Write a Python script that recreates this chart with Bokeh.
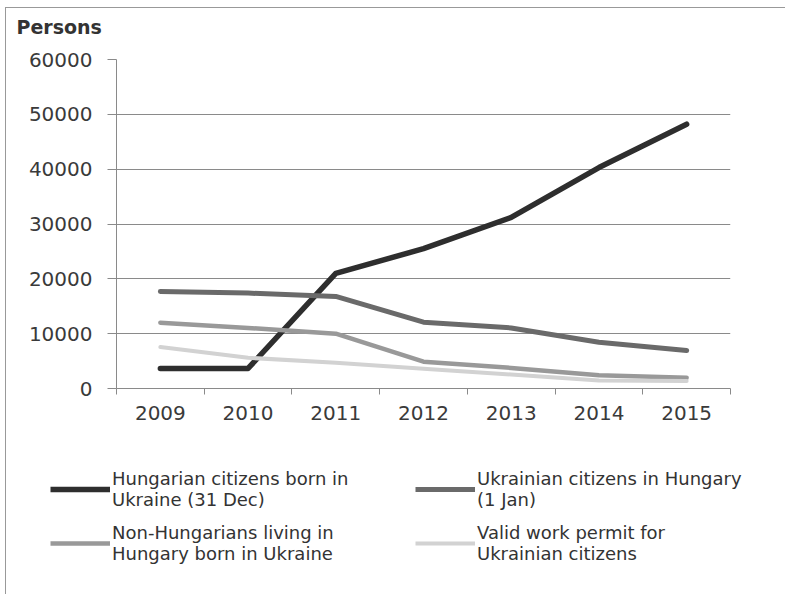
from bokeh.plotting import figure
from bokeh.layouts import column
from bokeh.models import Range1d, FixedTicker, Legend, LegendItem
from bokeh.embed import file_html
from bokeh.resources import INLINE

years = ["2009", "2010", "2011", "2012", "2013", "2014", "2015"]
hungarian_citizens = [3650, 3650, 21000, 25500, 31200, 40300, 48200]
ukrainian_citizens = [17700, 17400, 16800, 12100, 11050, 8450, 6930]
non_hungarians = [12000, 11050, 10000, 4900, 3750, 2400, 1950]
work_permit = [7550, 5600, 4700, 3600, 2550, 1450, 1350]
y_ticks = [0, 10000, 20000, 30000, 40000, 50000, 60000]

labels = ["Hungarian citizens born in\nUkraine (31 Dec)",
          "Ukrainian citizens in Hungary\n(1 Jan)",
          "Non-Hungarians living in\nHungary born in Ukraine",
          "Valid work permit for\nUkrainian citizens"]
colors = ["#2e2e2e", "#6a6a6a", "#999999", "#d2d2d2"]
widths = [5.5, 5, 4.5, 4]
series_list = [hungarian_citizens, ukrainian_citizens, non_hungarians, work_permit]

xs = [i + 0.5 for i in range(len(years))]

W, H1, H2 = 779, 440, 146
FL, FR, FT, FB = 110, 724, 51, 380
p = figure(width=W, height=H1, output_backend="svg", toolbar_location=None,
           x_range=Range1d(0, len(years)), y_range=Range1d(0, 60000),
           min_border_left=FL, min_border_right=W - FR,
           min_border_top=FT, min_border_bottom=H1 - FB,
           frame_width=FR - FL, frame_height=FB - FT,
           title="Persons\n")
p.frame_align = False
p.title.text_font = "DejaVu Sans"
p.title.text_font_style = "bold"
p.title.text_font_size = "19px"
p.title.text_color = "#333333"
p.title.align = "left"
p.title.offset = -100
p.title.standoff = 0
p.outline_line_color = None

# axes
p.xaxis.ticker = FixedTicker(ticks=xs, minor_ticks=list(range(len(years) + 1)))
p.xaxis.major_label_overrides = {x: y for x, y in zip(xs, years)}
p.xaxis.major_tick_line_color = None
p.xaxis.minor_tick_line_color = "#8a8a8a"
p.xaxis.minor_tick_out = 6
p.xaxis.minor_tick_in = 0
p.xaxis.axis_line_color = "#8a8a8a"
p.xaxis.major_label_standoff = 11
p.yaxis.ticker = FixedTicker(ticks=y_ticks)
p.yaxis.minor_tick_line_color = None
p.yaxis.major_tick_out = 9
p.yaxis.major_tick_in = 0
p.yaxis.major_tick_line_color = "#8a8a8a"
p.yaxis.axis_line_color = "#8a8a8a"
p.yaxis.major_label_standoff = 15
for ax in (p.xaxis, p.yaxis):
    ax.major_label_text_font = "DejaVu Sans"
    ax.major_label_text_font_size = "20px"
    ax.major_label_text_color = "#3a3a3a"
p.xgrid.grid_line_color = None
p.ygrid.ticker = FixedTicker(ticks=y_ticks)
p.ygrid.grid_line_color = "#8a8a8a"
p.ygrid.grid_line_width = 1

for series, c, w in zip(series_list, colors, widths):
    p.line(xs, series, line_color=c, line_width=w, line_join="round", line_cap="round")

# legend panel (lines sit outside its visible range; only the legend shows)
q = figure(width=W, height=H2, output_backend="svg", toolbar_location=None,
           x_range=Range1d(100, 101), y_range=Range1d(0, 1),
           x_axis_location=None, y_axis_location=None,
           min_border_left=0, min_border_right=0, min_border_top=0, min_border_bottom=0)
q.frame_align = False
q.grid.visible = False
q.outline_line_color = None
items = []
for series, lab, c, w in zip(series_list, labels, colors, widths):
    r = q.line(xs, series, line_color=c, line_width=w)
    items.append(LegendItem(label=lab, renderers=[r]))
legend = Legend(items=items, ncols=2, orientation="horizontal",
                location=(44, 30),
                label_text_font="DejaVu Sans", label_text_font_size="18px",
                label_text_color="#333333", glyph_width=60, label_standoff=2,
                label_width=291, padding=0, spacing=12, margin=0,
                border_line_color=None, background_fill_alpha=0,
                label_text_line_height=1.25)
q.add_layout(legend, "center")

layout = column(p, q, spacing=0)
layout.styles = {"margin-left": "5px", "margin-top": "7px",
                 "border-left": "1px solid #999", "border-top": "1px solid #999"}

open("out.html", "w").write(file_html(layout, INLINE))
